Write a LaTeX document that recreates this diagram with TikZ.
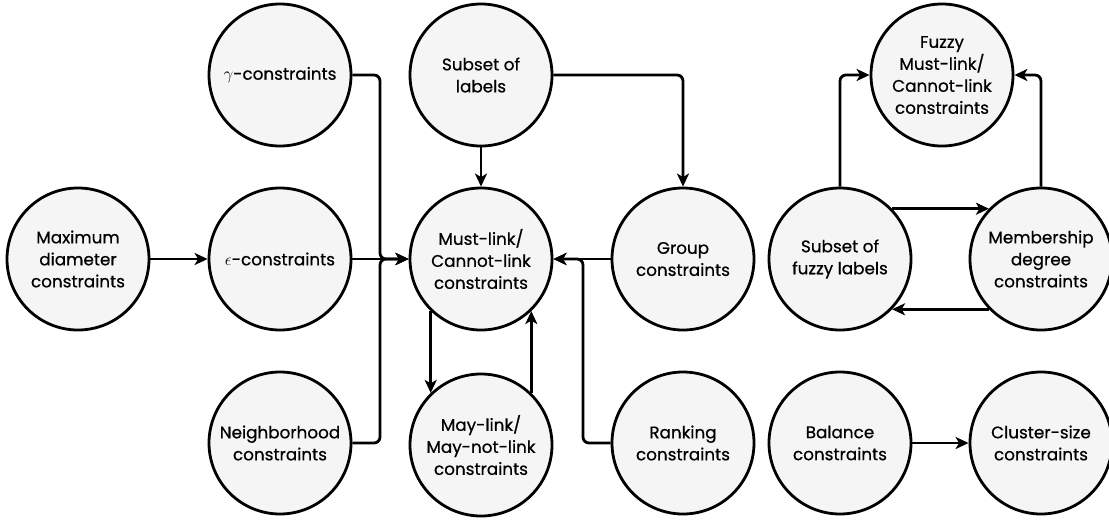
\documentclass[tikz,border=0pt]{standalone}
\usepackage{fontspec}
\setmainfont{Poppins}
\newfontfamily\lblfont{Poppins}[FakeBold=0.6]
\usetikzlibrary{arrows.meta}
\begin{document}
\begin{tikzpicture}[x=1pt,y=-1pt,
  cnode/.style={circle, draw=black, line width=2.8pt, fill=gray!8,
    minimum size=142pt, inner sep=0pt, align=center,
    font=\lblfont\fontsize{16.8}{22}\selectfont},
  link/.style={line width=2.8pt, rounded corners=6pt,
    -{Stealth[length=13pt,width=12pt,inset=3.5pt]}}]
\useasboundingbox (0,0) rectangle (1109,523);

% nodes
\node[cnode] (maxd) at (78,259)   {Maximum\\diameter\\constraints};
\node[cnode] (eps)  at (280,259)  {$\epsilon$-constraints};
\node[cnode] (gam)  at (280,75)   {$\gamma$-constraints};
\node[cnode] (nbh)  at (280,443)  {Neighborhood\\constraints};
\node[cnode] (sol)  at (481,75)   {Subset of\\labels};
\node[cnode] (ml)   at (481,259)  {Must-link/\\Cannot-link\\constraints};
\node[cnode] (may)  at (481,445)  {May-link/\\May-not-link\\constraints};
\node[cnode] (grp)  at (683,259)  {Group\\constraints};
\node[cnode] (rnk)  at (683,443)  {Ranking\\constraints};
\node[cnode] (fz)   at (942,75)   {Fuzzy\\Must-link/\\Cannot-link\\constraints};
\node[cnode] (sfl)  at (840,259)  {Subset of\\fuzzy labels};
\node[cnode] (mem)  at (1041,259) {Membership\\degree\\constraints};
\node[cnode] (bal)  at (840,443)  {Balance\\constraints};
\node[cnode] (csz)  at (1041,443) {Cluster-size\\constraints};

% junctions of the merging connectors
\coordinate (jl) at (380,259);
\coordinate (jr) at (583,259);

% connectors into Must-link/Cannot-link
\draw[link] (maxd.east) -- (eps.west);
\draw[link] (eps.east) -- (ml.west);
\draw[link] (gam.east) -| (jl) -- (ml.west);
\draw[link] (nbh.east) -| (jl) -- (ml.west);
\draw[link] (sol.south) -- (ml.north);
\draw[link] (sol.east) -| (grp.north);
\draw[link] (grp.west) -- (ml.east);
\draw[link] (rnk.west) -| (jr) -- (ml.east);
\draw[link] (ml.226) -- (may.134);
\draw[link] (may.46) -- (ml.314);

% fuzzy group
\draw[link] (sfl.north) |- (fz.west);
\draw[link] (mem.north) |- (fz.east);
\draw[link] (sfl.44) -- (mem.136);
\draw[link] (mem.224) -- (sfl.316);

% balance
\draw[link] (bal.east) -- (csz.west);
\end{tikzpicture}
\end{document}
